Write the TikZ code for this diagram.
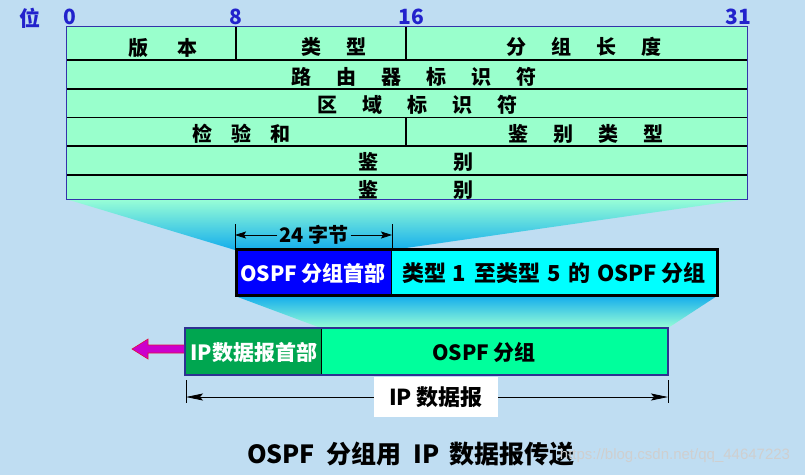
\documentclass[tikz,border=0pt]{standalone}
\usepackage{fontspec}
\setmainfont{Noto Sans CJK SC}
\newfontfamily\wmfont{Liberation Sans}
\usetikzlibrary{arrows.meta}
\definecolor{bg}{HTML}{BFDDF2}
\definecolor{tabfill}{HTML}{99FFCC}
\definecolor{tabborder}{HTML}{3333AA}
\definecolor{bitblue}{HTML}{2222CC}
\definecolor{hdrblue}{HTML}{0000FF}
\definecolor{pktcyan}{HTML}{00FFFF}
\definecolor{ipgreen}{HTML}{00A650}
\definecolor{ipmint}{HTML}{00FF9C}
\definecolor{ipborder}{HTML}{2E3192}
\definecolor{funblue}{HTML}{14ADEC}
\definecolor{funmint}{HTML}{99FFD6}
\definecolor{arrmag}{HTML}{CC00CC}
\definecolor{arrred}{HTML}{E0103C}
\newcommand{\mygap}[1]{\hspace{#1pt}}
\begin{document}
\begin{tikzpicture}[x=1pt,y=-1pt,
  tabtxt/.style={font=\bfseries\fontsize{20}{20}\selectfont, inner sep=0pt, anchor=center},
  bitlbl/.style={font=\bfseries\fontsize{21}{21}\selectfont, text=bitblue, inner sep=0pt},
  rowline/.style={black, line width=1.5pt},
  boxtxt/.style={font=\bfseries\fontsize{21}{21}\selectfont, inner sep=0pt},
  dimtick/.style={black, line width=0.8pt},
  dimarr/.style={black, line width=0.8pt, -{Stealth[length=11pt,width=7pt,inset=2pt]}},
  dimarrb/.style={black, line width=0.8pt, -{Stealth[length=17pt,width=7pt,inset=3pt]}}
]
% background / bounding box
\fill[bg] (0,0) rectangle (805,475);
\useasboundingbox (0,0) rectangle (805,475);

% funnels
\shade[top color=funmint, bottom color=funblue] (66,199) -- (747,199) -- (392,250) -- (235,250) -- cycle;
\shade[top color=funblue, bottom color=funmint] (235,296) -- (717,296) -- (668,328) -- (321,328) -- cycle;

% header table
\fill[tabfill] (66,26) rectangle (747,199);
\foreach \yy in {60,89,117.5,146,175} \draw[rowline] (66,\yy) -- (747,\yy);
\draw[rowline] (236,26) -- (236,60);
\draw[rowline] (406,26) -- (406,60);
\draw[rowline] (406,117.5) -- (406,146);
\draw[tabborder, line width=0.9pt] (66,26) rectangle (747,199);

% bit labels
\node[bitlbl] (wei) at (30,18) {位};
\node[bitlbl] (b0) at (70,17) {0};
\node[bitlbl] (b8) at (236,17) {8};
\node[bitlbl] (b16) at (411,17) {16};
\node[bitlbl] (b31) at (738,17) {31};

% table texts
\node[tabtxt] (ver) at (163,48) {版\mygap{29}本};
\node[tabtxt] (typ) at (334,47) {类\mygap{25}型};
\node[tabtxt] (len) at (584,47) {分\mygap{25}组\mygap{25}长\mygap{25}度};
\node[tabtxt] (rid) at (414,77) {路\mygap{25}由\mygap{25}器\mygap{25}标\mygap{25}识\mygap{25}符};
\node[tabtxt] (aid) at (417,105) {区\mygap{25}域\mygap{25}标\mygap{25}识\mygap{25}符};
\node[tabtxt] (cks) at (241,134) {检\mygap{19}验\mygap{19}和};
\node[tabtxt] (aty) at (586,134) {鉴\mygap{25}别\mygap{25}类\mygap{25}型};
\node[tabtxt] (au1) at (416,162) {鉴\mygap{75}别};
\node[tabtxt] (au2) at (416,190) {鉴\mygap{75}别};

% OSPF packet box
\fill[hdrblue] (236,249.5) rectangle (391,295.5);
\fill[pktcyan] (391,249.5) rectangle (717,295.5);
\draw[black, line width=0.8pt] (391,249.5) -- (391,295.5);
\draw[black, line width=3pt] (236,249.5) rectangle (717,295.5);
\node[boxtxt, text=white] (ohdr) at (313,273) {OSPF 分组首部};
\node[boxtxt, text=black, font=\bfseries\fontsize{22}{22}\selectfont] (opkt) at (554,273) {类型\mygap{6}1\mygap{8}至类型\mygap{7}5\mygap{8}的\mygap{7}OSPF\mygap{4}分组};

% 24 bytes dimension
\draw[dimtick] (235,224) -- (235,249);
\draw[dimtick] (392,224) -- (392,249);
\coordinate (d24l) at (235,235);
\coordinate (d24r) at (392,235);
\node[boxtxt, font=\bfseries\fontsize{20}{20}\selectfont, inner sep=2pt] (l24) at (314,235) {24 字节};
\draw[dimarr] (l24.west) -- (d24l);
\draw[dimarr] (l24.east) -- (d24r);

% IP datagram
\fill[ipgreen] (185,328) rectangle (321,375);
\fill[ipmint] (321,328) rectangle (668,375);
\draw[black, line width=0.8pt] (321,328) -- (321,375);
\draw[ipborder, line width=2pt] (185,328) rectangle (668,375);
\node[boxtxt, text=white] (iphdr) at (254,352) {IP数据报首部};
\node[boxtxt, text=black] (ipospf) at (484,352) {OSPF 分组};

% magenta arrow
\draw[fill=arrmag, draw=arrred, line width=0.6pt] (184,345) -- (148,345) -- (148,339) -- (132,349) -- (148,359) -- (148,353) -- (184,353);

% IP datagram dimension
\draw[dimtick] (186,380) -- (186,403);
\draw[dimtick] (668,380) -- (668,403);
\coordinate (dipl) at (186,397);
\coordinate (dipr) at (668,397);
\node[boxtxt, fill=white, minimum width=124pt, minimum height=40pt, font=\bfseries\fontsize{22}{22}\selectfont] (ipl) at (436,397) {IP 数据报};
\draw[dimarrb] (ipl.west) -- (dipl);
\draw[dimarrb] (ipl.east) -- (dipr);

% title
\node[font=\bfseries\fontsize{25}{25}\selectfont, inner sep=0pt] (title) at (411,454) {OSPF\mygap{12}分组用\mygap{12}IP\mygap{10}数据报传送};

% watermark
\node[font=\wmfont\fontsize{15}{15}\selectfont, text=white!62!gray, inner sep=0pt] (wm) at (675,456) {https://blog.csdn.net/qq\_44647223};
\end{tikzpicture}
\end{document}
